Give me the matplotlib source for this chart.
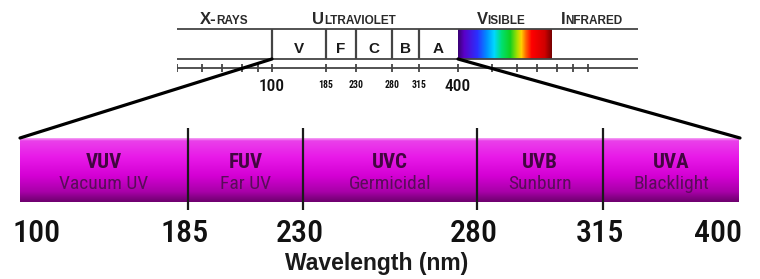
import matplotlib
matplotlib.use('Agg')
import matplotlib.pyplot as plt
import numpy as np
from matplotlib import font_manager as fm
from matplotlib.colors import LinearSegmentedColormap
from matplotlib.patches import ConnectionPatch

# --- data -------------------------------------------------------------
band_edges = [100, 185, 230, 280, 315, 400]          # nm
band_names = ['VUV', 'FUV', 'UVC', 'UVB', 'UVA']
band_desc = ['Vacuum UV', 'Far UV', 'Germicidal', 'Sunburn', 'Blacklight']
band_letters = ['V', 'F', 'C', 'B', 'A']
visible_range = [400, 700]                            # nm
region_labels = [('X-', 'RAYS'), ('U', 'LTRAVIOLET'), ('V', 'ISIBLE'), ('I', 'NFRARED')]
x_label = 'Wavelength (nm)'

# --- layout (pixels on the 760x279 drawing) ---------------------------
W, H = 760, 279
bot_nm = band_edges
bot_px = [20, 188, 303, 477, 603, 740]
top_nm = [1, 100, 185, 230, 280, 315, 400, 700, 1500]
top_px = [177, 272, 326, 356, 392, 419, 458, 552, 638]
deco_ticks_px = [177, 202, 222, 242, 258, 492, 517, 537, 557, 573, 588]
region_centers_px = [224, 354, 501, 592]

# pick an Arial-Narrow-like face from what is installed
installed = {f.name for f in fm.fontManager.ttflist}
narrow_prefs = ['Liberation Sans Narrow', 'Arial Narrow', 'Roboto Condensed',
                'Pragati Narrow', 'Archivo Narrow', 'PT Sans Narrow',
                'Fira Sans Condensed', 'IBM Plex Sans Condensed', 'Liberation Sans']
NARROW = [next(n for n in narrow_prefs if n in installed), 'DejaVu Sans']
line_c = '#444444'

fig = plt.figure(figsize=(W / 100, H / 100), dpi=100)


def ruler_axes(nm, px):
    fwd = lambda x: np.interp(x, nm, px)
    inv = lambda p: np.interp(p, px, nm)
    ax = fig.add_axes([px[0] / W, 0, (px[-1] - px[0]) / W, 1])
    ax.set_xscale('function', functions=(fwd, inv))
    ax.set_xlim(nm[0], nm[-1])
    ax.set_ylim(H, 0)
    ax.axis('off')
    return ax, fwd, inv


# --- bottom band bar --------------------------------------------------
ax_b, fwd_b, inv_b = ruler_axes(bot_nm, bot_px)
bar_cmap = LinearSegmentedColormap.from_list('bar', [
    (0.0, '#f7b0f7'), (0.05, '#ea40ea'), (0.3, '#e81ae8'),
    (0.6, '#d400d4'), (0.85, '#a800a8'), (1.0, '#700070')])
grad = np.linspace(0, 1, 128)[:, None]
ax_b.imshow(grad, extent=(band_edges[0], band_edges[-1], 202, 138),
            aspect='auto', cmap=bar_cmap, interpolation='bilinear')
ax_b.vlines(band_edges[1:-1], 128, 210, color='#1a1a1a', lw=1.6)

for i, (name, desc) in enumerate(zip(band_names, band_desc)):
    xc = inv_b((fwd_b(band_edges[i]) + fwd_b(band_edges[i + 1])) / 2)
    ax_b.text(xc, 168, name, ha='center', va='baseline', fontsize=15,
              fontweight='bold', family=NARROW, color='#420640')
    ax_b.text(xc, 189, desc, ha='center', va='baseline', fontsize=14,
              family=NARROW, color='#5a0c5a')

n = len(band_edges)
for i, e in enumerate(band_edges):
    ha = 'left' if i == 0 else ('right' if i == n - 1 else 'center')
    dx = -7 if i == 0 else (2 if i == n - 1 else -3)
    ax_b.annotate(str(e), (e, 242), xytext=(dx, 0), textcoords='offset pixels',
                  ha=ha, va='baseline', fontsize=23, fontweight='medium',
                  family=NARROW, color='#111111')

# --- top spectrum ruler -----------------------------------------------
ax_t, fwd_t, inv_t = ruler_axes(top_nm, top_px)
ax_t.hlines([29, 59, 68], top_nm[0], top_nm[-1], color=line_c, lw=1.3)
ax_t.vlines(band_edges[:-1], 29, 59, color=line_c, lw=1.6)
ax_t.vlines(band_edges, 64, 72, color=line_c, lw=1.3)
ax_t.vlines(inv_t(np.array(deco_ticks_px)), 64, 72, color=line_c, lw=1.3)

spec_cmap = LinearSegmentedColormap.from_list('spec', [
    (0.0, '#3c0078'), (0.06, '#5a00c8'), (0.2, '#2a30ff'), (0.3, '#0090ff'),
    (0.38, '#00d8ff'), (0.46, '#00e070'), (0.55, '#10d020'), (0.63, '#b0e000'),
    (0.67, '#ffd000'), (0.72, '#ff6000'), (0.78, '#ff0000'), (0.92, '#d00000'),
    (1.0, '#700000')])
ax_t.imshow(np.linspace(0, 1, 256)[None, :],
            extent=(visible_range[0], visible_range[1], 59, 29),
            aspect='auto', cmap=spec_cmap, interpolation='bilinear')

for i, letter in enumerate(band_letters):
    xc = inv_t((fwd_t(band_edges[i]) + fwd_t(band_edges[i + 1])) / 2)
    ax_t.text(xc, 53, letter, ha='center', va='baseline', fontsize=11,
              fontweight='bold', family='Liberation Sans', color='#1a1a1a')

for e in band_edges:
    big = e in (band_edges[0], band_edges[-1])
    ax_t.text(e, 91 if big else 88, str(e), ha='center', va='baseline',
              fontsize=12.5 if big else 7,
              fontweight='medium' if big else 'bold',
              family=NARROW, color='#111111')

# --- zoom lines from the ruler to the bar ------------------------------
for e in (band_edges[0], band_edges[-1]):
    con = ConnectionPatch(xyA=(e, 59), coordsA=ax_t.transData,
                          xyB=(e, 138), coordsB=ax_b.transData,
                          color='black', lw=2.3)
    fig.add_artist(con)

# --- text layer in pixel coordinates -----------------------------------
ax_px = fig.add_axes([0, 0, 1, 1])
ax_px.set_xlim(0, W)
ax_px.set_ylim(H, 0)
ax_px.axis('off')

r = fig.canvas.get_renderer()
for (first, rest), xc in zip(region_labels, region_centers_px):
    t1 = ax_px.text(xc, 24, first, ha='left', va='baseline', fontsize=12,
                    fontweight='bold', family='Liberation Sans', color='#2a2a2a')
    t2 = ax_px.text(xc, 24, rest, ha='left', va='baseline', fontsize=8.5,
                    fontweight='bold', family='Liberation Sans', color='#2a2a2a')
    w1 = t1.get_window_extent(r).width
    w2 = t2.get_window_extent(r).width
    left = xc - (w1 + w2) / 2
    t1.set_x(left)
    t2.set_x(left + w1)

ax_px.text(377, 270, x_label, ha='center', va='baseline', fontsize=16.5,
           fontweight='bold', family='Liberation Sans', color='#1a1a1a')

fig.savefig('out.png', dpi=100, facecolor='white')
